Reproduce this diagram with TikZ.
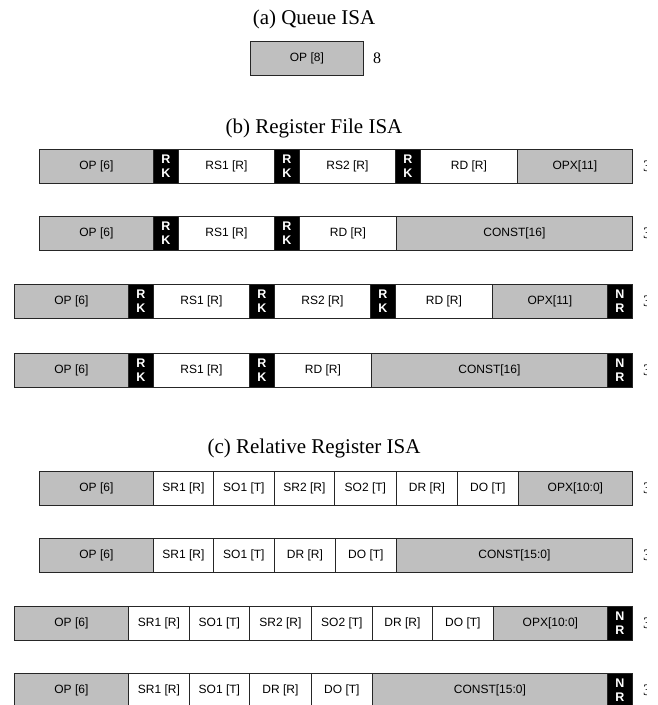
\documentclass[tikz,border=0pt]{standalone}
\usepackage{fontspec}
\setmainfont{Liberation Serif}
\newfontfamily\fieldfont{Liberation Sans}
\usepackage{xcolor}
\usepackage{tikz}

\begin{document}
\begin{tikzpicture}[
    x=1pt, y=-1pt,
    field/.style={draw=black!85, line width=0.7pt, minimum height=34pt, inner sep=0pt, anchor=west, font=\fieldfont\fontsize{12}{14}\selectfont},
    opcode/.style={field, fill=black!25},
    operand/.style={field, fill=white},
    tagbit/.style={field, fill=black, text=white, align=center, minimum width=25pt, font=\fieldfont\bfseries\fontsize{12.5}{14}\selectfont},
    heading/.style={anchor=base, font=\fontsize{21}{24}\selectfont},
    size/.style={anchor=west, inner sep=0pt, font=\fontsize{16}{18}\selectfont}
]
\useasboundingbox (0,0) rectangle (658,705);
% the widths on the right are cut off in the original
\clip (0,0) rectangle (646,705);

% (a)
\node[heading] (ttla) at (314,24) {(a) Queue ISA};
\node[opcode, minimum width=113pt] (qop) at (250,58) {OP [8]};
\node[size] (qlen) at (373,58) {8};

% (b)
\node[heading] (ttlb) at (314,133) {(b) Register File ISA};

\node[opcode, minimum width=114pt] (b1op) at (39,166) {OP [6]};
\node[tagbit] (b1k1) at (153,166) {R\\K};
\node[operand, minimum width=96pt] (b1rs1) at (178,166) {RS1 [R]};
\node[tagbit] (b1k2) at (274,166) {R\\K};
\node[operand, minimum width=96pt] (b1rs2) at (299,166) {RS2 [R]};
\node[tagbit] (b1k3) at (395,166) {R\\K};
\node[operand, minimum width=97pt] (b1rd) at (420,166) {RD [R]};
\node[opcode, minimum width=115pt] (b1opx) at (517,166) {OPX[11]};
\node[size] (b1len) at (643,166) {32};

\node[opcode, minimum width=114pt] (b2op) at (39,233) {OP [6]};
\node[tagbit] (b2k1) at (153,233) {R\\K};
\node[operand, minimum width=96pt] (b2rs1) at (178,233) {RS1 [R]};
\node[tagbit] (b2k2) at (274,233) {R\\K};
\node[operand, minimum width=97pt] (b2rd) at (299,233) {RD [R]};
\node[opcode, minimum width=236pt] (b2const) at (396,233) {CONST[16]};
\node[size] (b2len) at (643,233) {32};

\node[opcode, minimum width=114pt] (b3op) at (14,301) {OP [6]};
\node[tagbit] (b3k1) at (128,301) {R\\K};
\node[operand, minimum width=96pt] (b3rs1) at (153,301) {RS1 [R]};
\node[tagbit] (b3k2) at (249,301) {R\\K};
\node[operand, minimum width=96pt] (b3rs2) at (274,301) {RS2 [R]};
\node[tagbit] (b3k3) at (370,301) {R\\K};
\node[operand, minimum width=97pt] (b3rd) at (395,301) {RD [R]};
\node[opcode, minimum width=115pt] (b3opx) at (492,301) {OPX[11]};
\node[tagbit] (b3nr) at (607,301) {N\\R};
\node[size] (b3len) at (643,301) {32};

\node[opcode, minimum width=114pt] (b4op) at (14,370) {OP [6]};
\node[tagbit] (b4k1) at (128,370) {R\\K};
\node[operand, minimum width=96pt] (b4rs1) at (153,370) {RS1 [R]};
\node[tagbit] (b4k2) at (249,370) {R\\K};
\node[operand, minimum width=97pt] (b4rd) at (274,370) {RD [R]};
\node[opcode, minimum width=236pt] (b4const) at (371,370) {CONST[16]};
\node[tagbit] (b4nr) at (607,370) {N\\R};
\node[size] (b4len) at (643,370) {32};

% (c)
\node[heading] (ttlc) at (314,453) {(c) Relative Register ISA};

\node[opcode, minimum width=114pt] (c1op) at (39,488) {OP [6]};
\node[operand, minimum width=60pt] (c1sr1) at (153,488) {SR1 [R]};
\node[operand, minimum width=61pt] (c1so1) at (213,488) {SO1 [T]};
\node[operand, minimum width=60pt] (c1sr2) at (274,488) {SR2 [R]};
\node[operand, minimum width=62pt] (c1so2) at (334,488) {SO2 [T]};
\node[operand, minimum width=61pt] (c1dr) at (396,488) {DR [R]};
\node[operand, minimum width=61pt] (c1do) at (457,488) {DO [T]};
\node[opcode, minimum width=114pt] (c1opx) at (518,488) {OPX[10:0]};
\node[size] (c1len) at (643,488) {32};

\node[opcode, minimum width=114pt] (c2op) at (39,555) {OP [6]};
\node[operand, minimum width=60pt] (c2sr1) at (153,555) {SR1 [R]};
\node[operand, minimum width=61pt] (c2so1) at (213,555) {SO1 [T]};
\node[operand, minimum width=61pt] (c2dr) at (274,555) {DR [R]};
\node[operand, minimum width=61pt] (c2do) at (335,555) {DO [T]};
\node[opcode, minimum width=236pt] (c2const) at (396,555) {CONST[15:0]};
\node[size] (c2len) at (643,555) {32};

\node[opcode, minimum width=114pt] (c3op) at (14,623) {OP [6]};
\node[operand, minimum width=61pt] (c3sr1) at (128,623) {SR1 [R]};
\node[operand, minimum width=60pt] (c3so1) at (189,623) {SO1 [T]};
\node[operand, minimum width=62pt] (c3sr2) at (249,623) {SR2 [R]};
\node[operand, minimum width=61pt] (c3so2) at (311,623) {SO2 [T]};
\node[operand, minimum width=60pt] (c3dr) at (372,623) {DR [R]};
\node[operand, minimum width=61pt] (c3do) at (432,623) {DO [T]};
\node[opcode, minimum width=114pt] (c3opx) at (493,623) {OPX[10:0]};
\node[tagbit] (c3nr) at (607,623) {N\\R};
\node[size] (c3len) at (643,623) {32};

\node[opcode, minimum width=114pt] (c4op) at (14,690) {OP [6]};
\node[operand, minimum width=61pt] (c4sr1) at (128,690) {SR1 [R]};
\node[operand, minimum width=60pt] (c4so1) at (189,690) {SO1 [T]};
\node[operand, minimum width=62pt] (c4dr) at (249,690) {DR [R]};
\node[operand, minimum width=61pt] (c4do) at (311,690) {DO [T]};
\node[opcode, minimum width=235pt] (c4const) at (372,690) {CONST[15:0]};
\node[tagbit] (c4nr) at (607,690) {N\\R};
\node[size] (c4len) at (643,690) {32};

\end{tikzpicture}
\end{document}
